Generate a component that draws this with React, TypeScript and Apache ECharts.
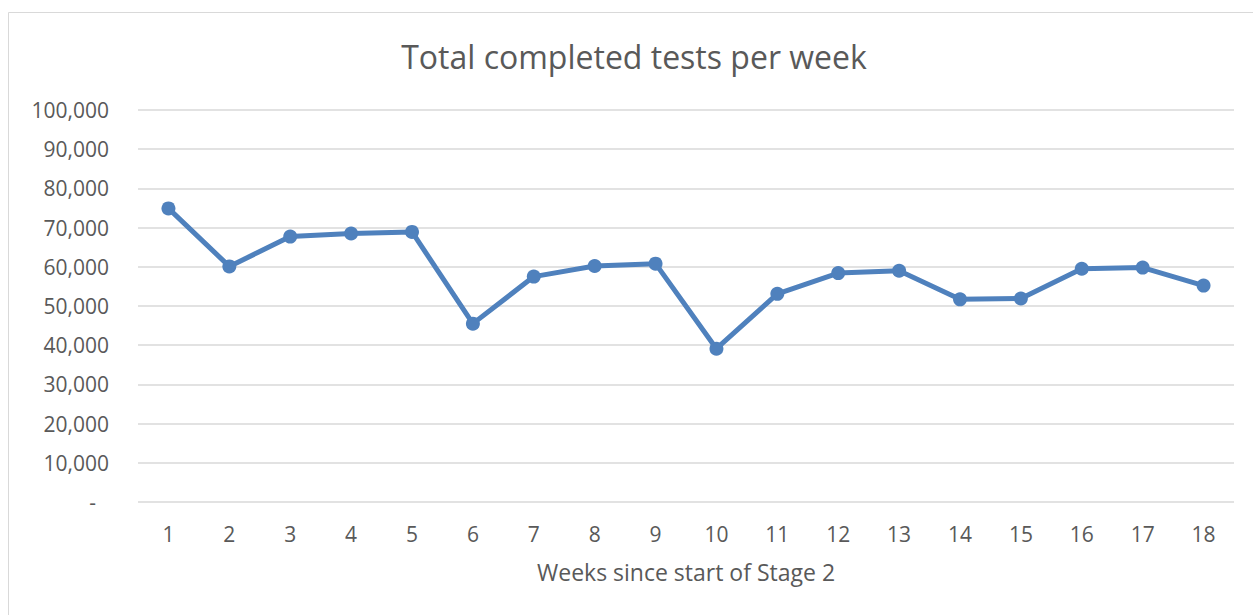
import React, { useEffect, useRef } from "react";
import * as echarts from "echarts";

const weeks: string[] = ["1","2","3","4","5","6","7","8","9","10","11","12","13","14","15","16","17","18"];
const completedTests: number[] = [74900, 60100, 67700, 68500, 68900, 45500, 57500, 60200, 60800, 39100, 53100, 58400, 59000, 51700, 51900, 59500, 59800, 55200];
const titleText = "Total completed tests per week";
const xAxisName = "Weeks since start of Stage 2";

const TEXT = "#595959";
const FONT = "'Open Sans', sans-serif";

export default function App() {
  const ref = useRef<HTMLDivElement>(null);
  useEffect(() => {
    if (!ref.current) return;
    const chart = echarts.init(ref.current, undefined, { renderer: "svg" });
    chart.setOption({
      animation: false,
      backgroundColor: "#ffffff",
      textStyle: { fontFamily: FONT, color: TEXT },
      graphic: [
        {
          type: "rect",
          silent: true,
          shape: { x: 8.5, y: 12.5, width: 1300, height: 700 },
          style: { fill: "none", stroke: "#d9d9d9", lineWidth: 1 },
        },
        {
          type: "text",
          x: 634,
          y: 56,
          style: {
            text: titleText,
            fill: TEXT,
            font: `32px ${FONT}`,
            textAlign: "center",
            textVerticalAlign: "middle",
          },
        },
      ],
      grid: { left: 138, right: 19, top: 110, bottom: 113, containLabel: false },
      xAxis: {
        type: "category",
        data: weeks,
        boundaryGap: true,
        name: xAxisName,
        nameLocation: "middle",
        nameGap: 58,
        nameTextStyle: { color: TEXT, fontSize: 23, fontFamily: FONT },
        axisLine: { show: false },
        axisTick: { show: false },
        axisLabel: { color: TEXT, fontSize: 21, fontFamily: FONT, margin: 21 },
      },
      yAxis: {
        type: "value",
        min: 0,
        max: 100000,
        interval: 10000,
        axisLine: { show: false },
        axisTick: { show: false },
        splitLine: { lineStyle: { color: "#d9d9d9", width: 1.5 } },
        axisLabel: {
          color: TEXT,
          fontSize: 21,
          fontFamily: FONT,
          margin: 29,
          formatter: (v: number) => (v === 0 ? "{d|-}" : v.toLocaleString("en-US")),
          rich: { d: { color: TEXT, fontSize: 21, fontFamily: FONT, padding: [0, 13, 0, 0] } },
        },
      },
      series: [
        {
          type: "line",
          data: completedTests,
          symbol: "circle",
          symbolSize: 14,
          itemStyle: { color: "#4f81bd" },
          lineStyle: { color: "#4f81bd", width: 5 },
        },
      ],
    });
    return () => chart.dispose();
  }, []);
  return <div ref={ref} style={{ position: "fixed", left: 0, top: 0, width: 1253, height: 615 }} />;
}
